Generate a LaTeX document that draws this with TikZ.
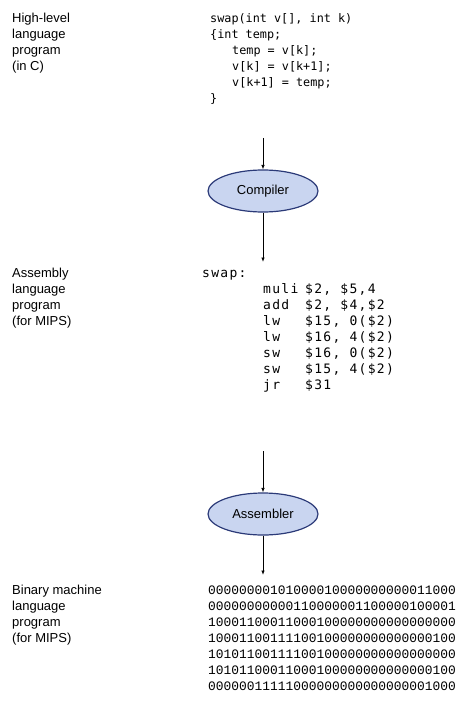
\documentclass[tikz,border=0pt]{standalone}
\usepackage{fontspec}
\setmainfont{Liberation Sans}
\newfontfamily\codefont{DejaVu Sans Mono}
\newfontfamily\asmfont[LetterSpace=10]{DejaVu Sans Mono}
\newfontfamily\binfont{Liberation Mono}
\usetikzlibrary{arrows.meta,shapes.geometric}
\definecolor{ellfill}{HTML}{C9D5F0}
\definecolor{elldraw}{HTML}{2B3A78}
\tikzset{
  lbl/.style={anchor=base west, inner sep=0pt, font=\fontsize{13}{16}\selectfont},
  ccode/.style={anchor=base west, inner sep=0pt, font=\codefont\fontsize{11.8}{16}\selectfont},
  acode/.style={anchor=base west, inner sep=0pt, font=\asmfont\fontsize{13}{16}\selectfont},
  bcode/.style={anchor=base west, inner sep=0pt, font=\binfont\fontsize{12.9}{16}\selectfont},
  tool/.style={ellipse, draw=elldraw, fill=ellfill, line width=1.2pt,
    minimum width=110pt, minimum height=42pt, inner sep=0pt,
    font=\fontsize{13}{16}\selectfont},
  flow/.style={draw=black, line width=0.8pt, -{Latex[length=4.5pt,width=3.5pt]}}
}
\begin{document}
\begin{tikzpicture}[x=1pt,y=-1pt]
\useasboundingbox (0,0) rectangle (465,722);
% --- high-level labels
\node[lbl] (h1) at (12,22.5) {High-level};
\node[lbl] (h2) at (12,38.5) {language};
\node[lbl] (h3) at (12,54.5) {program};
\node[lbl] (h4) at (12,70.5) {(in C)};
% --- C code
\node[ccode] (c1) at (210,22.5) {swap(int v[], int k)};
\node[ccode] (c2) at (210,38.5) {\{int temp;};
\node[ccode] (c3) at (232,54.5) {temp = v[k];};
\node[ccode] (c4) at (232,70.5) {v[k] = v[k+1];};
\node[ccode] (c5) at (232,86.5) {v[k+1] = temp;};
\node[ccode] (c6) at (210,103) {\}};
% --- compiler
\node[tool] (comp) at (263,191) {Compiler};
\coordinate (a1) at (263,138);
\coordinate (a2) at (263,262);
\draw[flow] (a1) -- (comp.north);
\draw[flow] (comp.south) -- (a2);
% --- assembly labels
\node[lbl] (m1) at (12,277.5) {Assembly};
\node[lbl] (m2) at (12,293.5) {language};
\node[lbl] (m3) at (12,309.5) {program};
\node[lbl] (m4) at (12,325.5) {(for MIPS)};
% --- assembly code
\node[acode] (s0) at (202,277.5) {swap:};
\node[acode] (s1a) at (263,293.5) {muli};
\node[acode] (s1b) at (305,293.5) {\$2, \$5,4};
\node[acode] (s2a) at (263,309.5) {add};
\node[acode] (s2b) at (305,309.5) {\$2, \$4,\$2};
\node[acode] (s3a) at (263,325.5) {lw};
\node[acode] (s3b) at (305,325.5) {\$15, 0(\$2)};
\node[acode] (s4a) at (263,341.5) {lw};
\node[acode] (s4b) at (305,341.5) {\$16, 4(\$2)};
\node[acode] (s5a) at (263,357.5) {sw};
\node[acode] (s5b) at (305,357.5) {\$16, 0(\$2)};
\node[acode] (s6a) at (263,373.5) {sw};
\node[acode] (s6b) at (305,373.5) {\$15, 4(\$2)};
\node[acode] (s7a) at (263,389.5) {jr};
\node[acode] (s7b) at (305,389.5) {\$31};
% --- assembler
\node[tool] (asm) at (263,514) {Assembler};
\coordinate (b1) at (263,451);
\coordinate (b2) at (263,575);
\draw[flow] (b1) -- (asm.north);
\draw[flow] (asm.south) -- (b2);
% --- binary labels
\node[lbl] (n1) at (12,594.5) {Binary machine};
\node[lbl] (n2) at (12,610.5) {language};
\node[lbl] (n3) at (12,626.5) {program};
\node[lbl] (n4) at (12,642.5) {(for MIPS)};
% --- binary code
\node[bcode] (w1) at (208,594.5) {00000000101000010000000000011000};
\node[bcode] (w2) at (208,610.5) {00000000000110000001100000100001};
\node[bcode] (w3) at (208,626.5) {10001100011000100000000000000000};
\node[bcode] (w4) at (208,642.5) {10001100111100100000000000000100};
\node[bcode] (w5) at (208,658.5) {10101100111100100000000000000000};
\node[bcode] (w6) at (208,674.5) {10101100011000100000000000000100};
\node[bcode] (w7) at (208,690.5) {00000011111000000000000000001000};
\end{tikzpicture}
\end{document}
